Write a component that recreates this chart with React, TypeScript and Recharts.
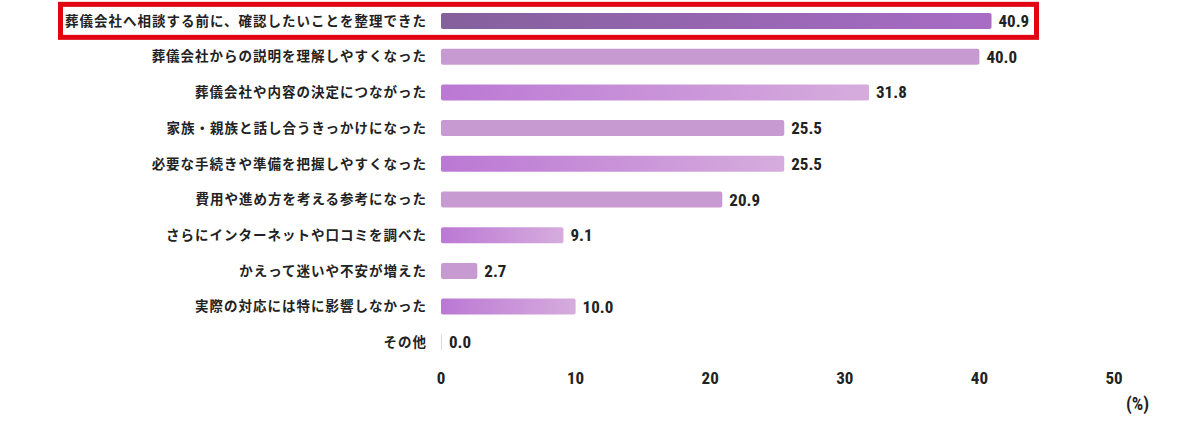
import React from 'react';
import { BarChart, Bar, XAxis, YAxis, LabelList, Cell } from 'recharts';

const categories = [
  '葬儀会社へ相談する前に、確認したいことを整理できた',
  '葬儀会社からの説明を理解しやすくなった',
  '葬儀会社や内容の決定につながった',
  '家族・親族と話し合うきっかけになった',
  '必要な手続きや準備を把握しやすくなった',
  '費用や進め方を考える参考になった',
  'さらにインターネットや口コミを調べた',
  'かえって迷いや不安が増えた',
  '実際の対応には特に影響しなかった',
  'その他',
];
const values = [40.9, 40.0, 31.8, 25.5, 25.5, 20.9, 9.1, 2.7, 10.0, 0.0];
const fills = ['url(#gDark)', '#c79bd1', 'url(#gMid)', '#c79bd1', 'url(#gMid)', '#c79bd1', 'url(#gMid)', '#c79bd1', 'url(#gMid)', '#e6d3ea'];
const xTicks = [0, 10, 20, 30, 40, 50];

const data = categories.map((name, i) => ({ name, value: values[i] }));

const NUM_FONT = "'Liberation Sans Narrow', 'Roboto Condensed', Roboto, sans-serif";
const JP_FONT = "'Noto Sans CJK JP', sans-serif";

const YTick = (props: any) => {
  const { y, payload, index } = props;
  return (
    <g>
      {index === 0 && (
        <rect x={60.5} y={y - 16.5} width={976} height={33} fill="none" stroke="#e10514" strokeWidth={5} />
      )}
      <text x={427} y={y} dy="0.36em" textAnchor="end" fontFamily={JP_FONT} fontSize={13.5} fontWeight={700} letterSpacing={1.0} fill="#222">
        {payload.value}
      </text>
    </g>
  );
};

export default function App() {
  return (
    <div style={{ position: 'absolute', left: 0, top: 0, width: 1200, height: 425, background: '#fff' }}>
      <BarChart
        width={1200}
        height={425}
        data={data}
        layout="vertical"
        margin={{ top: 3, right: 86, bottom: 0, left: 0 }}
        barCategoryGap={0}
      >
        <defs>
          <linearGradient id="gDark" x1="0" y1="0" x2="1" y2="0">
            <stop offset="0%" stopColor="#84609c" />
            <stop offset="100%" stopColor="#a86cc5" />
          </linearGradient>
          <linearGradient id="gMid" x1="0" y1="0" x2="1" y2="0">
            <stop offset="0%" stopColor="#bb78d4" />
            <stop offset="100%" stopColor="#d6acdd" />
          </linearGradient>
        </defs>
        <XAxis
          type="number"
          domain={[0, 50]}
          ticks={xTicks}
          axisLine={false}
          tickLine={false}
          height={65}
          tickMargin={6}
          tick={{ fontFamily: NUM_FONT, fontSize: 17, fontWeight: 700, fill: '#222' }}
          interval={0}
        />
        <YAxis
          type="category"
          dataKey="name"
          width={441}
          axisLine={false}
          tickLine={false}
          tick={<YTick />}
          interval={0}
        />
        <Bar dataKey="value" barSize={16} radius={2} minPointSize={1} isAnimationActive={false}>
          {data.map((d, i) => (
            <Cell key={d.name} fill={fills[i]} />
          ))}
          <LabelList
            dataKey="value"
            position="right"
            offset={7}
            formatter={(v: any) => Number(v).toFixed(1)}
            style={{ fontFamily: NUM_FONT, fontSize: 17, fontWeight: 700, fill: '#222' }}
          />
        </Bar>
      </BarChart>
      <div
        style={{
          position: 'absolute',
          left: 1126,
          top: 394,
          fontFamily: NUM_FONT,
          fontSize: 18,
          fontWeight: 700,
          color: '#222',
          lineHeight: '20px',
        }}
      >
        (%)
      </div>
    </div>
  );
}
